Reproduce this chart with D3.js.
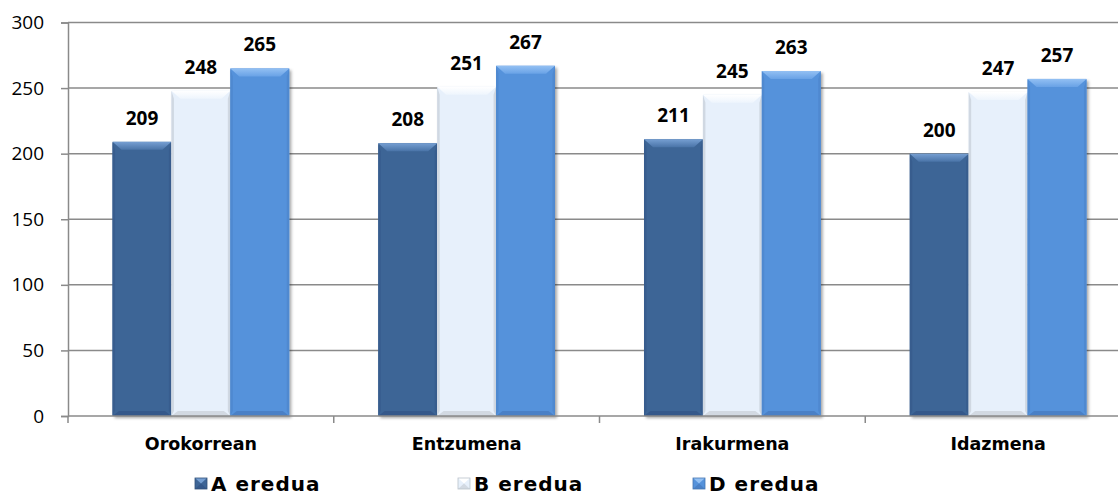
<!DOCTYPE html>
<html>
<head>
<meta charset="utf-8">
<script src="https://cdn.jsdelivr.net/npm/d3@7"></script>
<style>
  body { margin: 0; background: #fff; }
  svg { display: block; }
</style>
</head>
<body>
<div id="chart"></div>
<script>
const categories = ['Orokorrean', 'Entzumena', 'Irakurmena', 'Idazmena']
const seriesNames = ['A eredua', 'B eredua', 'D eredua']
const valuesA = [209, 208, 211, 200]
const valuesB = [248, 251, 245, 247]
const valuesD = [265, 267, 263, 257]
const yTicks = [0, 50, 100, 150, 200, 250, 300]

const allValues = [valuesA, valuesB, valuesD]

const width = 1118
const height = 496

// plot area (right side runs off the picture, as in the original)
const plot = { left: 68, right: 1131, top: 22.5, bottom: 416 }

// colours per series: main face, top bevel (light, mid), bottom bevel, side
const styles = [
  { face: '#3E6596', top1: '#769fd2', top2: '#4a74a8', bottom: '#35588a', side: '#385d8e' },
  { face: '#E7F0FB', top1: '#ffffff', top2: '#eef5fd', bottom: '#d2d9e2', side: '#d0d8e2' },
  { face: '#5592DB', top1: '#93c0f3', top2: '#69a2e6', bottom: '#4a80c6', side: '#4f89d0' }
]

const svg = d3.select('#chart')
  .append('svg')
  .attr('width', width)
  .attr('height', height)

const defs = svg.append('defs')

const shadow = defs.append('filter')
  .attr('id', 'shadow')
  .attr('x', '-20%').attr('y', '-20%')
  .attr('width', '140%').attr('height', '140%')
shadow.append('feDropShadow')
  .attr('dx', 2).attr('dy', 2)
  .attr('stdDeviation', 1.8)
  .attr('flood-color', '#000')
  .attr('flood-opacity', 0.35)

styles.forEach((s, i) => {
  const g = defs.append('linearGradient')
    .attr('id', 'top' + i)
    .attr('x1', 0).attr('y1', 0).attr('x2', 0).attr('y2', 1)
  g.append('stop').attr('offset', '0%').attr('stop-color', s.top1)
  g.append('stop').attr('offset', '100%').attr('stop-color', s.top2)
})

const x0 = d3.scaleBand()
  .domain(categories)
  .range([plot.left, plot.right])
  .paddingInner(0.335)
  .paddingOuter(0.1675)

const x1 = d3.scaleBand()
  .domain(seriesNames)
  .range([0, x0.bandwidth()])

const y = d3.scaleLinear()
  .domain([0, 300])
  .range([plot.bottom, plot.top])

// gridlines
svg.append('g')
  .selectAll('line')
  .data(yTicks.filter(d => d > 0))
  .enter()
  .append('line')
  .attr('x1', plot.left)
  .attr('x2', width)
  .attr('y1', d => y(d))
  .attr('y2', d => y(d))
  .attr('stroke', '#8a8a8a')
  .attr('stroke-width', 1.5)

// y axis
const yAxis = svg.append('g')
  .attr('transform', 'translate(' + plot.left + ',0)')
  .call(d3.axisLeft(y).tickValues(yTicks).tickSize(7).tickPadding(17))
yAxis.select('.domain').attr('stroke', '#8a8a8a').attr('stroke-width', 1.5)
yAxis.selectAll('.tick line').attr('stroke', '#8a8a8a').attr('stroke-width', 1.5)
yAxis.selectAll('.tick text')
  .attr('font-family', 'Open Sans, sans-serif')
  .attr('font-size', 19)
  .attr('fill', '#000')

// bars
const step = x0.step()
const groups = svg.append('g')
  .selectAll('g')
  .data(categories)
  .enter()
  .append('g')
  .attr('transform', d => 'translate(' + x0(d) + ',0)')

const bars = groups.selectAll('g.bar')
  .data((c, ci) => seriesNames.map((s, si) => ({ cat: c, series: s, si: si, value: allValues[si][ci] })))
  .enter()
  .append('g')
  .attr('class', 'bar')

bars.each(function (d) {
  const g = d3.select(this)
  const s = styles[d.si]
  const bx = x1(d.series)
  const bw = x1.bandwidth()
  const by = y(d.value)
  const bh = y(0) - by
  const tb = 8 // top bevel depth
  const bb = 5 // bottom bevel depth
  const sb = 2.5 // side bevel width

  g.append('rect')
    .attr('x', bx).attr('y', by)
    .attr('width', bw).attr('height', bh)
    .attr('fill', s.face)
    .attr('filter', 'url(#shadow)')

  // sides
  g.append('polygon')
    .attr('points', [[bx, by], [bx + sb, by + tb], [bx + sb, by + bh - bb], [bx, by + bh]].join(' '))
    .attr('fill', s.side)
  g.append('polygon')
    .attr('points', [[bx + bw, by], [bx + bw - sb, by + tb], [bx + bw - sb, by + bh - bb], [bx + bw, by + bh]].join(' '))
    .attr('fill', s.side)

  // bottom bevel
  g.append('polygon')
    .attr('points', [[bx, by + bh], [bx + sb + 4, by + bh - bb], [bx + bw - sb - 4, by + bh - bb], [bx + bw, by + bh]].join(' '))
    .attr('fill', s.bottom)

  // top bevel
  g.append('polygon')
    .attr('points', [[bx, by], [bx + bw, by], [bx + bw - 9, by + tb], [bx + 9, by + tb]].join(' '))
    .attr('fill', 'url(#top' + d.si + ')')
})

// data labels
bars.append('text')
  .attr('x', d => x1(d.series) + x1.bandwidth() / 2)
  .attr('y', d => y(d.value) - 17)
  .attr('text-anchor', 'middle')
  .attr('font-family', 'Open Sans, sans-serif')
  .attr('font-weight', 'bold')
  .attr('font-size', 19)
  .attr('fill', '#000')
  .text(d => d.value)

// x axis
const boundaries = categories.map(c => x0(c) - step * x0.paddingInner() / 2)
svg.append('line')
  .attr('x1', plot.left).attr('x2', width)
  .attr('y1', y(0)).attr('y2', y(0))
  .attr('stroke', '#8a8a8a').attr('stroke-width', 1.5)
svg.append('g')
  .selectAll('line')
  .data(boundaries)
  .enter()
  .append('line')
  .attr('x1', d => d).attr('x2', d => d)
  .attr('y1', y(0)).attr('y2', y(0) + 7)
  .attr('stroke', '#8a8a8a').attr('stroke-width', 1.5)

svg.append('g')
  .selectAll('text')
  .data(categories)
  .enter()
  .append('text')
  .attr('x', d => x0(d) + x0.bandwidth() / 2)
  .attr('y', 450)
  .attr('text-anchor', 'middle')
  .attr('font-family', 'DejaVu Sans, sans-serif')
  .attr('font-weight', 'bold')
  .attr('font-size', 17.5)
  .attr('fill', '#000')
  .text(d => d)

// legend
const legendX = [195, 458, 693]
const legend = svg.append('g')
  .selectAll('g')
  .data(seriesNames)
  .enter()
  .append('g')
  .attr('transform', (d, i) => 'translate(' + legendX[i] + ',478)')

legend.append('rect')
  .attr('width', 12).attr('height', 11)
  .attr('fill', (d, i) => styles[i].face)
legend.append('polygon')
  .attr('points', '0,0 12,0 6,5.5')
  .attr('fill', (d, i) => styles[i].top1)
legend.append('polygon')
  .attr('points', '0,11 12,11 6,5.5')
  .attr('fill', (d, i) => styles[i].bottom)
legend.append('rect')
  .attr('width', 12).attr('height', 11)
  .attr('fill', 'none')
  .attr('stroke', (d, i) => d3.color(styles[i].face).darker(0.6))
  .attr('stroke-width', 0.8)

legend.append('text')
  .attr('x', 16)
  .attr('y', 12.5)
  .attr('font-family', 'DejaVu Sans, sans-serif')
  .attr('font-weight', 'bold')
  .attr('font-size', 20)
  .attr('letter-spacing', 1)
  .attr('fill', '#000')
  .text(d => d)
</script>
</body>
</html>
